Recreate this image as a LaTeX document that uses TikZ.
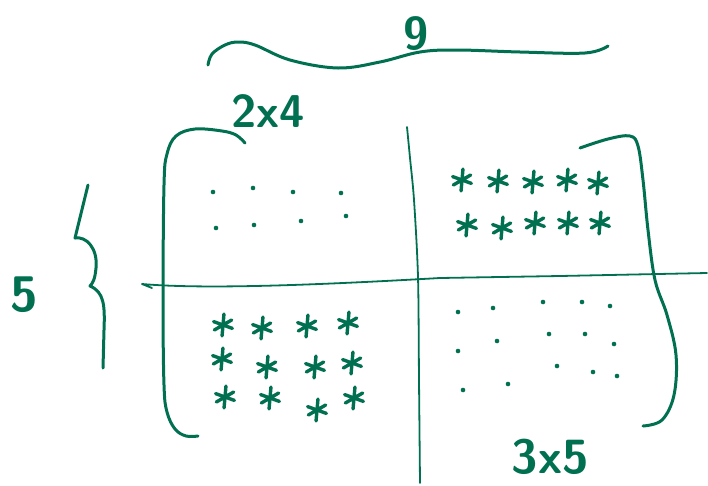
\documentclass[tikz,border=0pt]{standalone}
\usepackage{tikz}
\definecolor{inkgreen}{RGB}{0,112,80}

\begin{document}
\begin{tikzpicture}[x=1pt,y=-1pt,
  ink/.style={draw=inkgreen,line width=3pt,line cap=round,line join=round},
  thinink/.style={ink,line width=1.8pt},
  starink/.style={ink,line width=3.4pt},
  handlabel/.style={text=inkgreen,inner sep=0pt,anchor=south,
    font=\sffamily\bfseries\fontsize{46}{46}\selectfont}]
  \useasboundingbox (0,0) rectangle (708,485);
  % Width brace and label
  \draw[ink] plot[smooth,tension=0.6] coordinates {(208,65) (212,54) (225,45) (238,42) (255,45)
    (290,60) (338,68) (380,62) (420,52) (457,50) (520,52) (585,53) (608,46)};
  \node[handlabel] (ncols) at (416,51) {9};
  % Height brace and label
  \draw[ink] (88,185) -- (75,238) .. controls (86,236) and (98,248) .. (96,268)
    .. controls (95,279) and (93,283) .. (90,286)
    .. controls (104,292) and (105,305) .. (104,330) -- (103,368);
  \node[handlabel,font=\sffamily\bfseries\fontsize{50}{50}\selectfont] (nrows) at (24,313) {5};
  % Block sizes
  \node[handlabel] (topleft) at (268,128) {2x4};
  \node[handlabel,font=\sffamily\bfseries\fontsize{48}{48}\selectfont] (botright) at (550,475) {3x5};
  % Matrix brackets
  \draw[ink] plot[smooth,tension=0.6] coordinates {(245,143) (236,135) (222,131) (195,129) (176,136)
    (167,154) (164,185) (163,300) (164,385) (167,412) (175,429) (186,436) (198,436)};
  \draw[ink] plot[smooth,tension=0.6] coordinates {(580,148) (608,139) (630,136) (638,146) (643,180)
    (648,230) (655,280) (667,315) (676,355) (674,395) (662,420) (643,426)};
  % Partition lines
  \draw[thinink] plot[smooth] coordinates {(407,127) (410,158) (414,200) (418,277) (419,380) (420,483)};
  \draw[thinink] (152,288) -- (142,284) .. controls (200,289) and (300,286) .. (440,278)
    -- (560,276) -- (707,273);
  % Zero entries
  \foreach \p in {(213,192),(253,188),(293,192),(341,193),
                  (216,228),(254,225),(301,221),(346,216),
                  (458,312),(493,308),(543,302),(582,302),(610,306),
                  (458,351),(497,341),(549,334),(585,334),(614,344),
                  (463,390),(508,384),(557,366),(593,372),(617,376)}
    \fill[inkgreen] \p circle (2.3);
  % Nonzero entries
  \foreach \p in {(462,180),(498,181),(533,182),(567,180),(598,183),
                  (467,225),(502,228),(535,223),(568,223),(600,223),
                  (223,325),(262,328),(307,326),(348,323),
                  (222,359),(267,367),(315,367),(352,363),
                  (225,397),(270,398),(317,410),(354,398)}
    \draw[starink] \p +(95:11) -- +(275:11) \p +(20:10) -- +(200:10) \p +(-30:10) -- +(150:10);
\end{tikzpicture}
\end{document}
